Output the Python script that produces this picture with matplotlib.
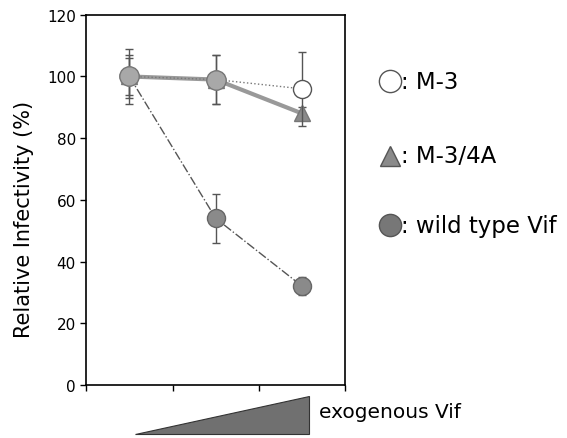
import numpy as np
import matplotlib
matplotlib.use("Agg")
import matplotlib.pyplot as plt
from matplotlib.lines import Line2D
from matplotlib.patches import Polygon

plt.rcParams['font.family'] = ['DejaVu Sans']

# data
doses = [0.5, 1.5, 2.5]
m3 = [100, 99, 96]
m3_err = [9, 8, 12]
m34a = [100, 99, 88]
m34a_err = [6, 8, 2]
wt = [100, 54, 32]
wt_err = [7, 8, 3]
yticks = [0, 20, 40, 60, 80, 100, 120]

fig = plt.figure(figsize=(5.67, 4.39), dpi=100)
ax = fig.add_axes([0.152, 0.121, 0.457, 0.843])

ax.errorbar(doses, wt, yerr=wt_err, color='#555555', ls='-.', lw=1,
            marker='o', ms=13, mfc='#8a8a8a', mec='#666666', capsize=3,
            elinewidth=1, zorder=2)
ax.errorbar(doses, m34a, yerr=m34a_err, color='#999999', ls='-', lw=3,
            marker='^', ms=11, mfc='#8a8a8a', mec='#777777', capsize=3,
            ecolor='#555555', elinewidth=1, zorder=3)
ax.errorbar(doses, m3, yerr=m3_err, color='#777777', ls=':', lw=1,
            marker='o', ms=13, mfc='white', mec='#555555', capsize=3,
            ecolor='#555555', elinewidth=1, zorder=4)
# overlapping points look grey in the original
ax.plot(doses[:2], m3[:2], marker='o', ms=14, mfc='#a8a8a8', mec='#777777',
        ls='none', zorder=5)

ax.set_xlim(0, 3)
ax.set_ylim(0, 120)
ax.set_xticks([0, 1, 2, 3])
ax.set_xticklabels([])
ax.set_yticks(yticks)
ax.set_yticklabels([str(v) for v in yticks], fontsize=11)
ax.tick_params(direction='out', length=4, width=1)
ax.set_ylabel("Relative Infectivity (%)", fontsize=15)
ax.yaxis.set_label_coords(-0.20, 0.45)
for s in ax.spines.values():
    s.set_linewidth(1.2)

# legend as free text on the right
entries = [("o", "white", "M-3", 0.813),
           ("^", "#8a8a8a", "M-3/4A", 0.643),
           ("o", "#777777", "wild type Vif", 0.485)]
for mk, fc, lab, y in entries:
    fig.add_artist(Line2D([0.688], [y], marker=mk, ms=16 if mk == 'o' else 14,
                          mfc=fc, mec='#555555', ls='none',
                          transform=fig.transFigure))
    fig.text(0.708, y, ": " + lab, fontsize=16.5, va='center', ha='left')

# exogenous Vif wedge
fig.add_artist(Polygon([[0.238, 0.009], [0.545, 0.009], [0.545, 0.096]],
                       closed=True, facecolor='#707070', edgecolor='#333333',
                       lw=0.8, transform=fig.transFigure))
fig.text(0.563, 0.061, "exogenous Vif", fontsize=14.5, va='center', ha='left')

fig.savefig("out.png", dpi=100)
